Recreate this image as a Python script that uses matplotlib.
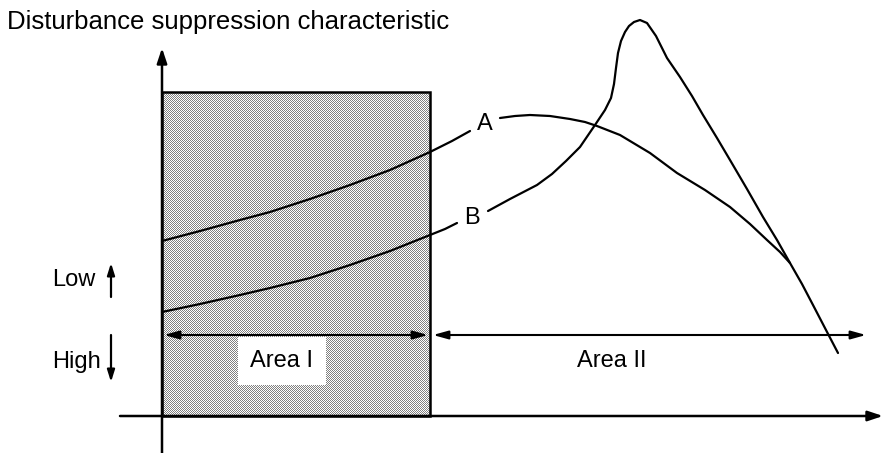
import numpy as np
import matplotlib
matplotlib.use("Agg")
import matplotlib.pyplot as plt
from matplotlib.patches import Rectangle

plt.rcParams['font.family'] = ['Liberation Sans', 'DejaVu Sans']

# Curve A (upper curve in area I), drawn in two pieces around its label
a_left_x = [162, 200, 240, 270, 310, 350, 390, 430, 452, 470]
a_left_y = [241, 231, 220, 212, 199, 185, 170, 152, 141, 131]
a_right_x = [500, 515, 530, 550, 570, 585, 597, 620, 650, 677, 705, 730, 750, 767, 780, 790, 802, 813, 826, 838]
a_right_y = [118, 116, 115, 116, 119, 122, 126, 135, 153, 173, 190, 207, 224, 240, 252, 263, 284, 305, 330, 353]

# Curve B (lower curve in area I, sharp peak in area II)
b_left_x = [162, 200, 240, 270, 310, 350, 390, 430, 445, 457]
b_left_y = [312, 304, 295, 288, 278, 265, 251, 235, 229, 223]
b_right_x = [488, 510, 537, 552, 566, 580, 595, 605, 611, 614, 616, 618, 621, 625, 629, 634, 640, 647, 656, 667, 680, 692, 703, 717, 730, 747, 763, 777, 790]
b_right_y = [211, 199, 185, 174, 161, 147, 125, 110, 98, 84, 68, 53, 41, 32, 26, 22, 20, 23, 36, 58, 77, 96, 115, 138, 160, 189, 217, 240, 263]

curve_labels = ["A", "B"]
area_labels = ["Area I", "Area II"]
level_labels = ["Low", "High"]
title_text = "Disturbance suppression characteristic"

W, H = 883, 453
fig = plt.figure(figsize=(W / 100, H / 100), dpi=100)
ax = fig.add_axes([0, 0, 1, 1])
ax.set_xlim(0, W)
ax.set_ylim(H, 0)
ax.axis("off")

# Area I: halftone-shaded region
x0, x1, y0, y1 = 162, 430, 92, 416
nh, nw = y1 - y0, x1 - x0
ii, jj = np.mgrid[0:nh, 0:nw]
tone = np.where((ii + jj) % 2 == 0, 0.5, 1.0)
ax.imshow(tone, cmap="gray", vmin=0, vmax=1, extent=(x0, x1, y1, y0),
          interpolation="nearest", zorder=1, aspect="auto")
ax.add_patch(Rectangle((x0, y0), x1 - x0, y1 - y0, fill=False,
                       edgecolor="black", lw=1.8, zorder=3))

# Axes with arrow heads
arrow_kw = dict(arrowstyle="-|>,head_length=0.9,head_width=0.3", color="black", lw=1.8,
                shrinkA=0, shrinkB=0)
ax.annotate("", xy=(162, 48), xytext=(162, 453), arrowprops=arrow_kw, zorder=4)
ax.annotate("", xy=(883, 416), xytext=(120, 416), arrowprops=arrow_kw, zorder=4)

# Area span arrows
span_kw = dict(arrowstyle="<|-|>,head_length=0.9,head_width=0.25", color="black", lw=1.5,
               shrinkA=0, shrinkB=0)
ax.annotate("", xy=(428, 335), xytext=(164, 335), arrowprops=span_kw, zorder=4)
ax.annotate("", xy=(866, 335), xytext=(433, 335), arrowprops=span_kw, zorder=4)

# Curves
line_kw = dict(color="black", lw=1.6, solid_capstyle="round", solid_joinstyle="round", zorder=5)
ax.plot(a_left_x, a_left_y, **line_kw)
ax.plot(a_right_x, a_right_y, **line_kw)
ax.plot(b_left_x, b_left_y, **line_kw)
ax.plot(b_right_x, b_right_y, **line_kw)

ax.text(485, 124, curve_labels[0], fontsize=17, ha="center", va="center", zorder=6)
ax.text(472, 218, curve_labels[1], fontsize=17, ha="center", va="center", zorder=6)

# Area labels
ax.text(282, 361, area_labels[0], fontsize=17, ha="center", va="center", zorder=6,
        bbox=dict(boxstyle="square,pad=0.55", facecolor="white", edgecolor="none"))
ax.text(612, 361, area_labels[1], fontsize=17, ha="center", va="center", zorder=6)

# Level indicators
ax.text(52, 280, level_labels[0], fontsize=17, ha="left", va="center")
ax.text(52, 362, level_labels[1], fontsize=17, ha="left", va="center")
lvl_kw = dict(arrowstyle="-|>,head_length=0.7,head_width=0.22", color="black", lw=1.6,
              shrinkA=0, shrinkB=0)
ax.annotate("", xy=(111, 263), xytext=(111, 297), arrowprops=lvl_kw)
ax.annotate("", xy=(111, 382), xytext=(111, 335), arrowprops=lvl_kw)

# Title
ax.text(7, 22, title_text, fontsize=18.5, ha="left", va="center")

fig.savefig("out.png", dpi=100)
